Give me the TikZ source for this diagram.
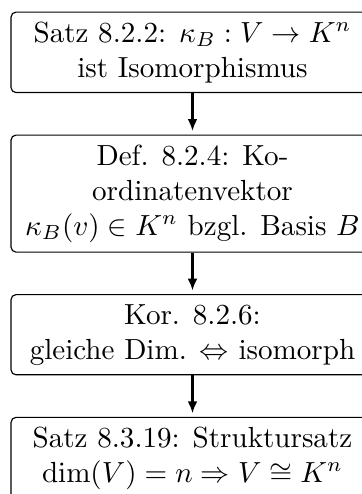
\documentclass[tikz,border=0pt]{standalone}
\usetikzlibrary{positioning}
\usetikzlibrary{arrows.meta}
\tikzstyle{result} = [rectangle, rounded corners=1.7pt, text width=4.15cm, align=flush center, draw=black]
\tikzstyle{arrow} = [thick,-{Latex[length=4.1pt,width=3.4pt]},shorten >=1.2pt]

\begin{document}
\begin{tikzpicture}[node distance=0.5cm]

% cropped like the reference
\useasboundingbox (-66.17pt,3.95pt) rectangle ++(124.4pt,-169.8pt);

\node (satz1) [result, anchor=north] at (0,0) {Satz 8.2.2: $\kappa_B : V \to K^n$\\ist Isomorphismus};
\node (def1) [result, below=of satz1] {Def. 8.2.4: Ko-\\ordinatenvektor\\$\kappa_B(v) \in K^n$ bzgl. Basis $B$};
\node (kor1) [result, below=of def1] {Kor. 8.2.6:\\gleiche Dim. $\Leftrightarrow$ isomorph};
\node (satz2) [result, below=of kor1] {Satz 8.3.19: Struktursatz\\$\dim(V) = n \Rightarrow V \cong K^n$};

\draw [arrow] (satz1) -- (def1);
\draw [arrow] (def1) -- (kor1);
\draw [arrow] (kor1) -- (satz2);

\end{tikzpicture}
\end{document}
